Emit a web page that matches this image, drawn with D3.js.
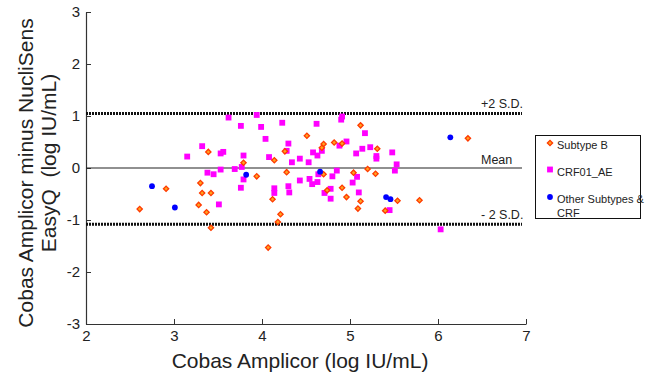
<!DOCTYPE html>
<html>
<head>
<meta charset="utf-8">
<script src="https://cdn.jsdelivr.net/npm/d3@7"></script>
<style>
  body { margin: 0; background: #fff; }
  svg { display: block; font-family: "Liberation Sans", Arial, sans-serif; }
</style>
</head>
<body>
<svg id="chart"></svg>
<script>
// Bland-Altman style data: [Cobas Amplicor (log), difference]
const subtypeB = [
  [3.39, 0.31], [3.79, 0.10], [3.94, -0.16], [2.91, -0.40], [3.30, -0.29],
  [3.32, -0.48], [3.42, -0.48], [3.28, -0.71], [2.61, -0.79], [3.37, -0.85],
  [3.42, -1.15], [4.51, 0.62], [5.12, 0.82], [4.26, 0.32], [4.70, 0.46],
  [4.68, 0.39], [4.82, 0.49], [4.91, 0.47], [5.31, 0.37], [4.14, 0.15],
  [4.28, -0.08], [4.70, -0.12], [5.04, -0.09], [5.20, -0.02], [5.29, -0.11],
  [4.74, -0.43], [4.91, -0.38], [4.12, -0.60], [4.96, -0.56], [5.12, -0.64],
  [5.09, -0.78], [5.54, -0.63], [5.79, -0.62], [5.40, -0.82], [4.21, -0.89],
  [4.18, -1.04], [4.07, -1.53], [6.34, 0.57]
];
const crf01AE = [
  [3.62, 0.97], [3.94, 1.02], [3.76, 0.81], [3.99, 0.79], [3.32, 0.42],
  [3.15, 0.22], [3.53, 0.28], [3.56, 0.31], [3.79, 0.24], [3.69, -0.02],
  [3.77, 0.02], [3.53, -0.03], [3.38, -0.09], [3.45, -0.12], [3.79, -0.22],
  [3.76, -0.38], [3.51, -0.70], [4.04, 0.56], [4.23, 0.87], [4.62, 0.85],
  [4.90, 0.93], [4.91, 0.99], [4.30, 0.47], [4.28, 0.33], [4.08, 0.21],
  [4.34, 0.11], [4.43, 0.18], [4.53, 0.11], [4.58, 0.30], [4.63, 0.24],
  [4.68, 0.33], [4.88, 0.43], [4.96, 0.51], [5.17, 0.67], [5.07, 0.28],
  [5.14, 0.37], [5.23, 0.40], [5.30, 0.23], [5.30, 0.18], [5.48, 0.30],
  [5.53, 0.07], [5.51, -0.05], [4.85, -0.05], [4.80, -0.16], [4.64, -0.12],
  [4.54, -0.21], [4.43, -0.24], [4.57, -0.31], [4.63, -0.27], [5.08, -0.17],
  [5.03, -0.28], [4.14, -0.39], [4.14, -0.48], [4.30, -0.35], [4.31, -0.47],
  [4.78, -0.40], [4.71, -0.48], [4.78, -0.59], [5.10, -0.47], [5.45, -0.81],
  [6.03, -1.18]
];
const otherSubtypes = [
  [2.75, -0.35], [3.01, -0.76], [3.82, -0.13], [4.66, -0.07],
  [5.41, -0.56], [5.46, -0.60], [6.14, 0.59]
];
const refLines = [
  { name: "+2 S.D.", value: 1.05, dotted: true },
  { name: "Mean", value: 0, dotted: false },
  { name: "- 2 S.D.", value: -1.08, dotted: true }
];
const xTicks = [2, 3, 4, 5, 6, 7];
const yTicks = [-3, -2, -1, 0, 1, 2, 3];
const legendLabels = ["Subtype B", "CRF01_AE", ["Other Subtypes &", "CRF"]];

const width = 645, height = 378;
const margin = { left: 86, right: 119, top: 12, bottom: 54 };

const svg = d3.select("#chart").attr("width", width).attr("height", height);

const x = d3.scaleLinear().domain([2, 7]).range([margin.left, width - margin.right]);
const y = d3.scaleLinear().domain([-3, 3]).range([height - margin.bottom, margin.top]);

const axisColor = "#333";

// axes, MATLAB-style inward ticks
const gx = svg.append("g")
  .attr("transform", `translate(0,${y(-3)})`)
  .call(d3.axisBottom(x).tickValues(xTicks).tickFormat(d3.format("d"))
    .tickSizeInner(-5).tickSizeOuter(0).tickPadding(6));
const gy = svg.append("g")
  .attr("transform", `translate(${x(2)},0)`)
  .call(d3.axisLeft(y).tickValues(yTicks).tickFormat(d => d)
    .tickSizeInner(-5).tickSizeOuter(0).tickPadding(6));
[gx, gy].forEach(g => {
  g.select(".domain").attr("stroke", axisColor).attr("stroke-width", 1.2);
  g.selectAll(".tick line").attr("stroke", axisColor);
  g.selectAll(".tick text").attr("fill", "#222").attr("font-size", 15)
    .attr("font-family", "Liberation Sans, Arial, sans-serif");
});

// reference lines
const lineEnd = 522;
svg.selectAll(".ref")
  .data(refLines)
  .enter()
  .append("line")
  .attr("x1", x(2))
  .attr("x2", lineEnd)
  .attr("y1", d => y(d.value))
  .attr("y2", d => y(d.value))
  .attr("stroke", d => d.dotted ? "#111" : "#222")
  .attr("stroke-width", d => d.dotted ? 3 : 1.2)
  .attr("stroke-dasharray", d => d.dotted ? "2 1" : null);

svg.selectAll(".refLabel")
  .data(refLines)
  .enter()
  .append("text")
  .attr("x", 481)
  .attr("y", d => y(d.value) - (d.dotted ? 5 : 4))
  .attr("font-size", 12.5)
  .attr("fill", "#222")
  .text(d => d.name);

// markers
const diamond = d3.symbol(d3.symbolSquare, 14);
const square = d3.symbol(d3.symbolSquare, 34);

const drawB = (sel) => sel.append("path")
  .attr("d", diamond)
  .attr("fill", "#ffa320")
  .attr("stroke", "#ff3a00")
  .attr("stroke-width", 1.3);
const drawAE = (sel) => sel.append("path")
  .attr("d", square)
  .attr("fill", "#ff00ff");
const drawOther = (sel) => sel.append("circle")
  .attr("r", 2.9)
  .attr("fill", "#0000ff");

drawAE(svg.append("g").selectAll("g")
  .data(crf01AE).enter().append("g")
  .attr("transform", d => `translate(${x(d[0])},${y(d[1])})`));
drawB(svg.append("g").selectAll("g")
  .data(subtypeB).enter().append("g")
  .attr("transform", d => `translate(${x(d[0])},${y(d[1])}) rotate(45)`));
drawOther(svg.append("g").selectAll("g")
  .data(otherSubtypes).enter().append("g")
  .attr("transform", d => `translate(${x(d[0])},${y(d[1])})`));

// legend
const legend = svg.append("g");
legend.append("rect")
  .attr("x", 535.5).attr("y", 135.5)
  .attr("width", 105).attr("height", 83)
  .attr("fill", "#fff").attr("stroke", "#111").attr("stroke-width", 1);

drawB(legend.append("g").attr("transform", "translate(550,143) rotate(45)"));
drawAE(legend.append("g").attr("transform", "translate(550,169.5)"));
drawOther(legend.append("g").attr("transform", "translate(550,197)"));

const legendY = [149, 176, 203];
legendLabels.forEach((lab, i) => {
  const t = legend.append("text")
    .attr("x", 557).attr("y", legendY[i])
    .attr("font-size", 11).attr("fill", "#222");
  if (Array.isArray(lab)) {
    lab.forEach((l, j) => t.append("tspan").attr("x", 557).attr("dy", j ? 13.5 : 0).text(l));
  } else {
    t.text(lab);
  }
});

// axis titles
svg.append("text")
  .attr("x", (x(2) + x(7)) / 2 - 6)
  .attr("y", 368)
  .attr("text-anchor", "middle")
  .attr("font-size", 21)
  .attr("fill", "#222")
  .text("Cobas Amplicor (log IU/mL)");

svg.append("text")
  .attr("transform", "translate(33,173) rotate(-90)")
  .attr("text-anchor", "middle")
  .attr("font-size", 21)
  .attr("fill", "#222")
  .text("Cobas Amplicor minus NucliSens");
svg.append("text")
  .attr("transform", "translate(56,163) rotate(-90)")
  .attr("text-anchor", "middle")
  .attr("font-size", 21)
  .attr("fill", "#222")
  .attr("xml:space", "preserve")
  .style("white-space", "pre")
  .text("EasyQ  (log IU/mL)");
</script>
</body>
</html>
